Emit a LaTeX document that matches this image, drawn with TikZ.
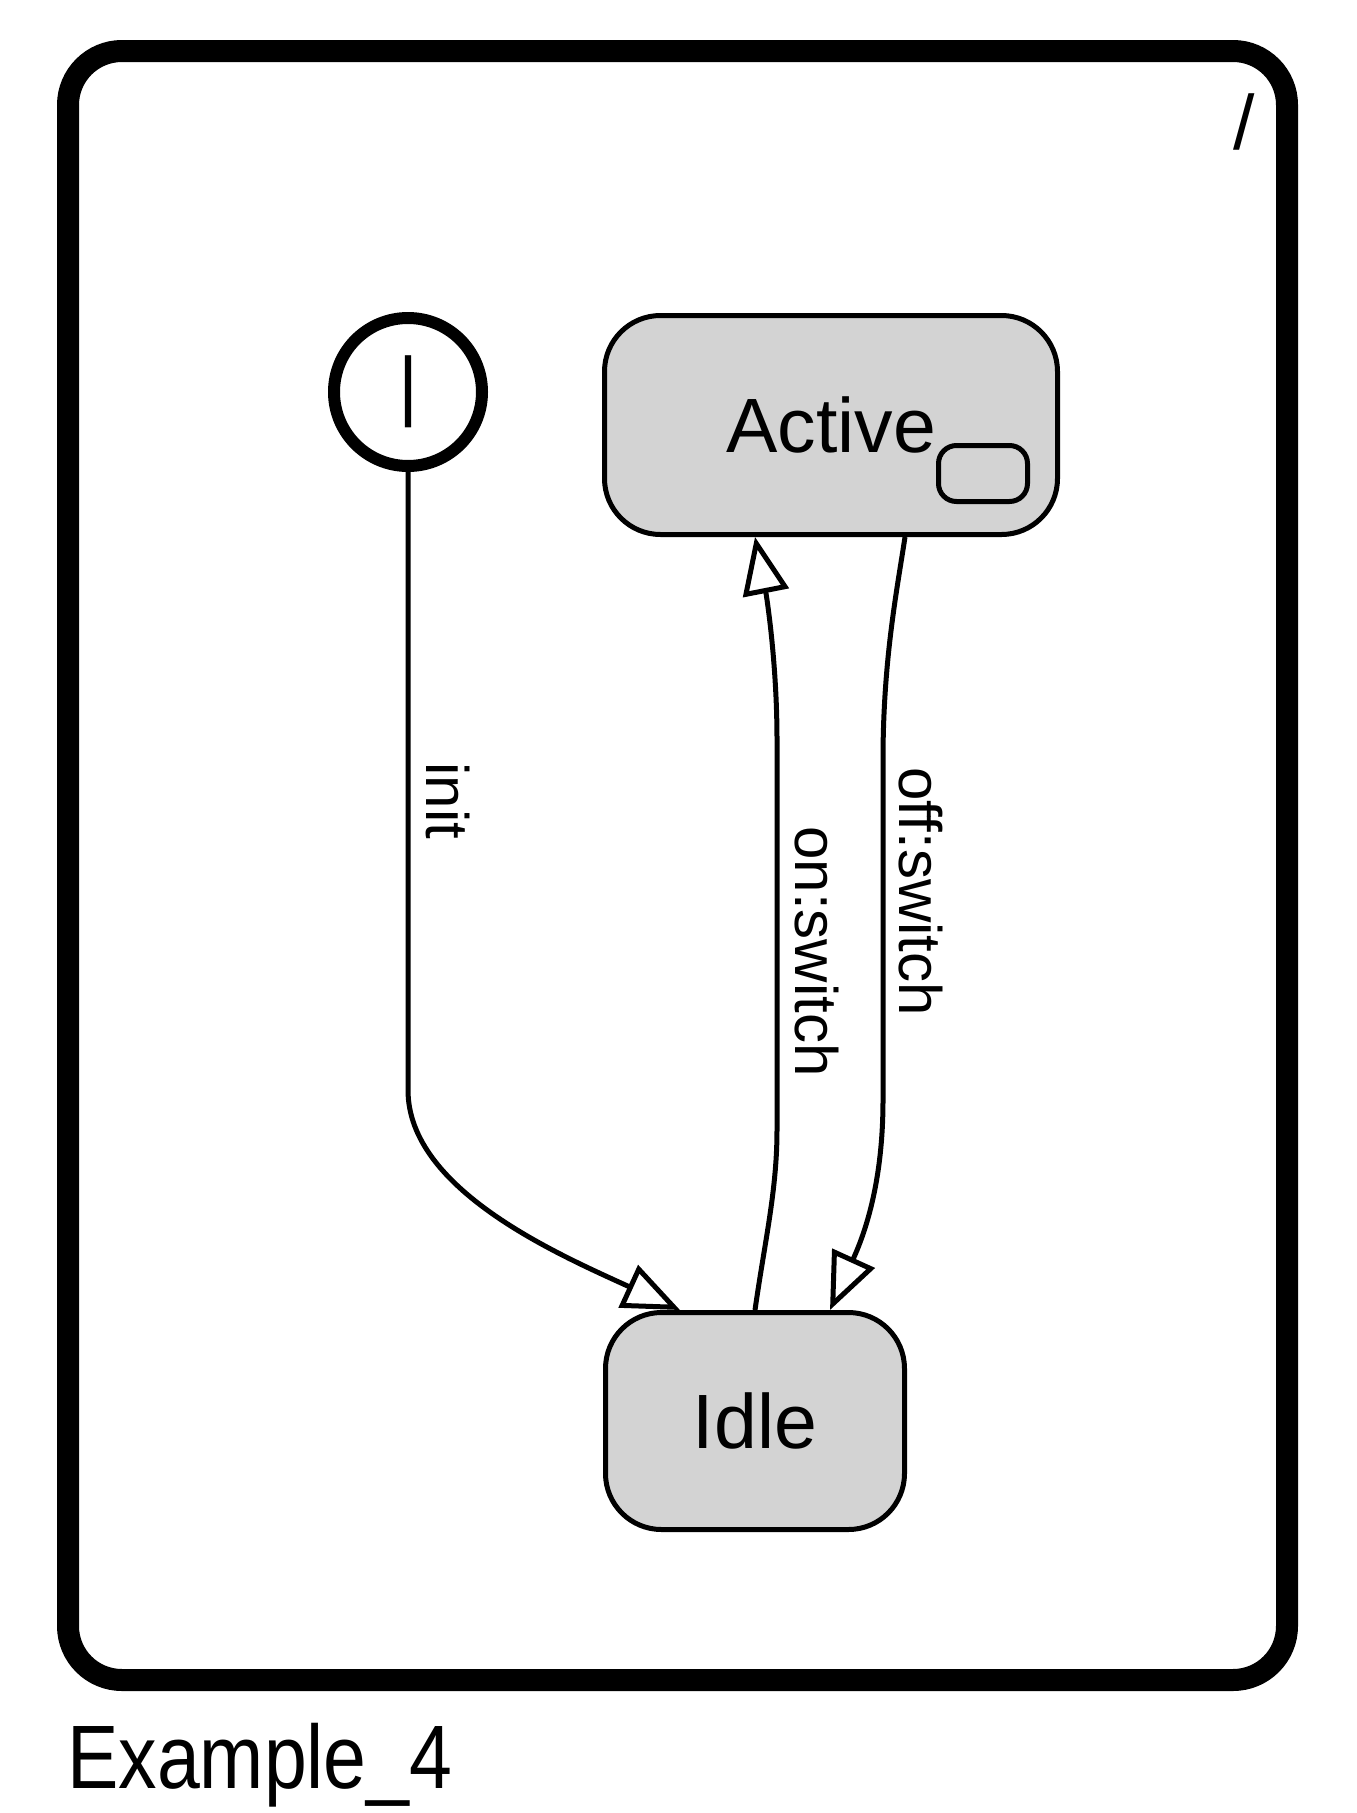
\documentclass[tikz,border=0pt]{standalone}
\usepackage{graphicx}
\usepackage{fontspec}
\setmainfont{Liberation Sans}
\usetikzlibrary{arrows.meta,calc}
\definecolor{stategray}{RGB}{211,211,211}
\begin{document}
\begin{tikzpicture}[x=1pt,y=-1pt,
  statebox/.style={draw, line width=5pt, fill=stategray, rounded corners=56pt, inner sep=0pt, font=\fontsize{77}{90}\selectfont},
  edgelabel/.style={inner sep=0pt, rotate=-90, font=\fontsize{60}{70}\selectfont},
  trans/.style={line width=5pt, -{Triangle[open, length=57pt, width=46pt]}},
]
\useasboundingbox (0,0) rectangle (1357,1813);
% cluster frame
\node[draw, line width=22pt, rounded corners=54pt, minimum width=1219pt, minimum height=1629pt, inner sep=0pt] (frame) at (677.5,865.5) {};
\node[anchor=base west, inner sep=0pt, font=\fontsize{77}{90}\selectfont] (framelabel) at (67,1788) {\scalebox{1}[1.17]{Example\_4}};
\node[anchor=base, inner sep=0pt, font=\fontsize{77}{90}\selectfont] (slash) at (1244,149) {/};
% states
\node[circle, draw, line width=12pt, minimum size=148pt, inner sep=0pt, font=\fontsize{77}{90}\selectfont] (init) at (408,392) {|};
\node[statebox, minimum width=453pt, minimum height=219pt] (active) at (831,425) {Active};
\node[draw, line width=5pt, fill=stategray, rounded corners=18pt, minimum width=89pt, minimum height=56pt, inner sep=0pt] (comp) at (983,473.5) {};
\node[statebox, minimum width=299pt, minimum height=217pt] (idle) at (755,1421) {Idle};
% transitions
\draw[trans] (init.south) -- (408,1090) .. controls (408,1190) and (560,1255) .. ($(idle.north)+(-75,0)$);
\draw[trans] (idle.north) .. controls (765,1240) and (777,1190) .. (777,1130) -- (777,740) .. controls (777,660) and (766,593) .. ($(active.south)+(-76,0)$);
\draw[trans] ($(active.south)+(74,0)$) .. controls (897,590) and (883,660) .. (883,760) -- (883,1100) .. controls (883,1170) and (870,1222) .. ($(idle.north)+(75,0)$);
% labels
\node[edgelabel] (lblinit) at (447.5,801) {init};
\node[edgelabel] (lblon) at (816.5,951.5) {on:switch};
\node[edgelabel] (lbloff) at (920.5,891.5) {off:switch};
\end{tikzpicture}
\end{document}
